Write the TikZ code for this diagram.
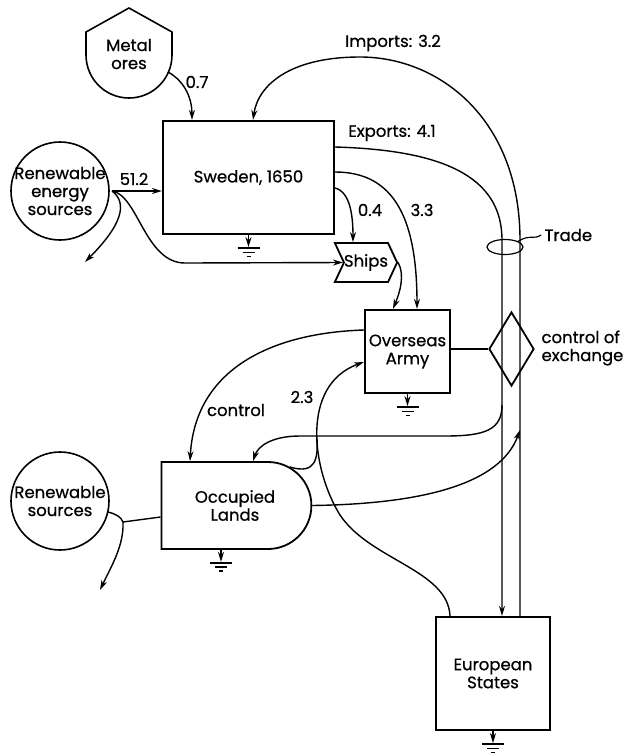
\documentclass[tikz,border=0pt]{standalone}
\usepackage{fontspec}
\setmainfont{Poppins}[UprightFeatures={FakeBold=0.7}]
\usetikzlibrary{arrows.meta,positioning,shapes.geometric,shapes.symbols,shapes.misc}

\begin{document}
\begin{tikzpicture}[
  x=1pt, y=-1pt,
  >={Stealth[length=10pt,width=6pt]},
  font=\fontsize{16.5}{18}\selectfont,
  flow/.style={line width=1.4pt},
  storage/.style={
    draw,
    line width=2.2pt,
    inner sep=0pt,
    align=center
  },
  source/.style={
    draw,
    circle,
    line width=1.6pt,
    minimum size=98pt,
    inner sep=0pt
  },
  sinkmark/.pic={
    \draw[->,line width=1.4pt] (0,0)--(0,12);
    \draw[line width=1.3pt] (-11,13)--(11,13);
    \draw[line width=1.2pt] (-6,17)--(6,17);
    \draw[line width=1.2pt] (-2,21)--(2,21);
  }
]
  \useasboundingbox (0,0) rectangle (623,756);

  % sources
  \draw[line width=1.6pt] (86,32)--(129,8)--(172,32)--(172,55)
    arc[start angle=0,end angle=180,radius=43]--cycle;
  \node[align=center] (metal) at (129,54) {Metal\\ores};
  \node[source] (energy) at (60,191) {};
  \node[align=center] (energytext) at (energy.center)
    {Renewable\\energy\\sources};
  \node[source] (lsrc) at (60,501) {};
  \node[align=center] (lsrctext) at (lsrc.center) {Renewable\\sources};

  % storages and consumers
  \node[storage,minimum width=171pt,minimum height=113pt] (sweden)
    at (248.5,177.5) {Sweden, 1650};
  \node[storage,minimum width=85pt,minimum height=83pt] (army)
    at (407.5,351.5) {Overseas\\Army};
  \node[storage,minimum width=114pt,minimum height=113pt] (europe)
    at (493,673.5) {European\\States};
  \node[storage,line width=1.8pt,rounded rectangle,
    rounded rectangle left arc=none,
    minimum width=150pt,minimum height=87pt] (lands)
    at (235,505.5) {Occupied\\Lands};
  \node[draw,signal,signal to=east,signal from=west,
    signal pointer angle=130,line width=1.8pt,inner sep=0pt,
    minimum width=54pt,minimum height=39pt] (ships)
    at (366,262.5) {Ships};
  \node[draw,diamond,line width=1.8pt,inner sep=0pt,
    minimum width=45pt,minimum height=74pt] (gate) at (511.5,349) {};
  \node[anchor=west,align=left] (gatetext) at (538,348)
    {control of\\exchange};

  % free ends
  \coordinate (metalout) at (168,72);
  \coordinate (energyout) at (112,191);
  \coordinate (energysink) at (85,262);
  \coordinate (lsrcout) at (108,512);
  \coordinate (lsrcjoin) at (123,522);
  \coordinate (lsrcsink) at (100,590);
  \coordinate (pipeleft) at (502,240);
  \coordinate (piperight) at (520,240);
  \coordinate (pipebranch) at (502,405);
  \coordinate (pipein) at (520,430);
  \coordinate (armyjoin) at (317,439);

  % flows into Sweden
  \draw[flow,->] (metalout) .. controls (186,82) and (192,100)
    .. ([xshift=-56.5pt]sweden.north);
  \node (orevalue) at (197,82) {0.7};
  \draw[flow,->] (energyout)--(sweden.west |- energyout);
  \node (energyvalue) at (134,179) {51.2};
  \draw[flow,->] (energyout) .. controls (138,195) and (145,263)
    .. (185,263)--(ships.west);
  \draw[flow,->] (energyout) .. controls (128,203) and (122,225)
    .. (energysink);

  % trade
  \draw[flow,->] ([yshift=30.5pt]sweden.east) .. controls (440,150)
    and (502,175) .. (pipeleft)--(europe.north -| pipeleft);
  \draw[flow,->] (europe.north -| piperight)--(piperight)
    .. controls (520,120) and (440,57) .. (360,57)
    .. controls (290,57) and (258,85) .. ([xshift=4.5pt]sweden.north);
  \node (imports) at (393,43) {Imports: 3.2};
  \node (exports) at (392,133) {Exports: 4.1};
  \node[draw,ellipse,line width=1.2pt,inner sep=0pt,
    minimum width=36pt,minimum height=15pt] (tradering) at (505,247) {};
  \node[anchor=west] (tradetext) at (541,235) {Trade};
  \draw[line width=1.2pt] (tradering.north east) .. controls (530,234)
    and (534,240) .. (tradetext.west);

  % army
  \draw[flow,->] ([yshift=-10.5pt]sweden.east) .. controls (350,192)
    and (353,215) .. ([xshift=-13pt]ships.north);
  \node (shipvalue) at (370,210) {0.4};
  \draw[flow,->] ([yshift=5.5pt]sweden.east) .. controls (395,172)
    and (417,220) .. ([xshift=9.5pt]army.north);
  \node (armyvalue) at (422,210) {3.3};
  \draw[flow,->] (ships.east) .. controls (405,275) and (400,292)
    .. ([xshift=-14.5pt]army.north);
  \draw[flow] (gate.west -| army.east)--(gate.west);

  % occupied lands
  \draw[flow,->] ([yshift=21.5pt]army.west) .. controls (270,333)
    and (195,370) .. ([xshift=-45pt]lands.north);
  \node (controltext) at (236,410) {control};
  \draw[flow,->] ([xshift=-43pt]europe.north) .. controls (448,570)
    and (370,560) .. (340,515) .. controls (312,470) and (300,385)
    .. ([yshift=-10.5pt]army.west);
  \node (tributevalue) at (302,397) {2.3};
  \draw[flow] (lands.35) .. controls (316,475) and (318,458) .. (armyjoin);
  \draw[flow,->] (pipebranch) .. controls (502,430) and (485,436)
    .. (445,436)--(300,436) .. controls (272,436) and (258,446)
    .. ([xshift=18pt]lands.north);
  \draw[flow,->] (lands.east) .. controls (420,504) and (500,485)
    .. (pipein);
  \draw[flow] (lsrcout) .. controls (116,514) and (121,517) .. (lsrcjoin)
    --([yshift=-11.5pt]lands.west);
  \draw[flow,->] (lsrcjoin) .. controls (124,545) and (112,565)
    .. (lsrcsink);

  % sinks
  \pic at (sweden.south) {sinkmark};
  \pic at (army.south) {sinkmark};
  \pic at ([xshift=-14pt]lands.south) {sinkmark};
  \pic at (europe.south) {sinkmark};
\end{tikzpicture}
\end{document}
